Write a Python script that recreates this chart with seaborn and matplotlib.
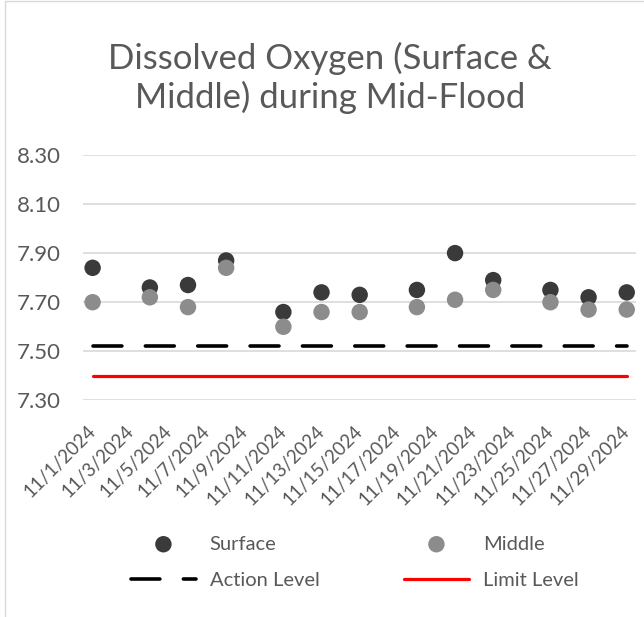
import pandas as pd
import matplotlib.pyplot as plt
import seaborn as sns


dates = ['2024-11-01', '2024-11-04', '2024-11-06', '2024-11-08', '2024-11-11',
         '2024-11-13', '2024-11-15', '2024-11-18', '2024-11-20', '2024-11-22',
         '2024-11-25', '2024-11-27', '2024-11-29']
surface = [7.84, 7.76, 7.77, 7.87, 7.66, 7.74, 7.73, 7.75, 7.90, 7.79, 7.75, 7.72, 7.74]
middle = [7.70, 7.72, 7.68, 7.84, 7.60, 7.66, 7.66, 7.68, 7.71, 7.75, 7.70, 7.67, 7.67]
action_level = 7.52
limit_level = 7.40
y_ticks = [7.30, 7.50, 7.70, 7.90, 8.10, 8.30]

df = pd.DataFrame({'Date': pd.to_datetime(dates), 'Surface': surface, 'Middle': middle})
df['Action Level'] = action_level
df['Limit Level'] = limit_level

sns.set_style('white')
plt.rcParams['font.family'] = ['Lato', 'DejaVu Sans']
text_col = '#595959'

fig = plt.figure(figsize=(6.44, 6.17), dpi=100)
ax = fig.add_axes([0.129, 0.351, 0.859, 0.398])

sns.lineplot(data=df, x='Date', y='Action Level', ax=ax, color='black', linewidth=2.6,
             label='Action Level')
ax.lines[-1].set_dashes([8, 6.5])
ax.lines[-1].set_dash_capstyle('round')
sns.lineplot(data=df, x='Date', y='Limit Level', ax=ax, color='#ff0000', linewidth=2.3,
             label='Limit Level')
ax.lines[-1].set_solid_capstyle('round')
sns.scatterplot(data=df, x='Date', y='Surface', ax=ax, color='#3a3a3a', s=140,
                edgecolor='none', label='Surface', zorder=3)
sns.scatterplot(data=df, x='Date', y='Middle', ax=ax, color='#8c8c8c', s=140,
                edgecolor='none', label='Middle', zorder=3)

ax.set_ylim(7.30, 8.30)
ax.set_yticks(y_ticks)
ax.set_yticklabels([f'{v:.2f}' for v in y_ticks])
ax.yaxis.grid(True, color='#d9d9d9', linewidth=1.2)
ax.set_xlim(pd.Timestamp('2024-10-31 12:00'), pd.Timestamp('2024-11-29 12:00'))
ticks = pd.date_range('2024-11-01', '2024-11-29', freq='2D')
ax.set_xticks(ticks)
ax.set_xticklabels([f'{d.month}/{d.day}/{d.year}' for d in ticks], rotation=45,
                   ha='right', va='center', rotation_mode='anchor')
ax.tick_params(axis='both', colors=text_col, length=0)
ax.tick_params(axis='y', labelsize=16, pad=16)
ax.tick_params(axis='x', labelsize=13.5, pad=20)
for sp in ax.spines.values():
    sp.set_visible(False)
ax.set_xlabel('')
ax.set_ylabel('')

ax.legend_.remove()
h, l = ax.get_legend_handles_labels()
order = [l.index(n) for n in ['Surface', 'Action Level', 'Middle', 'Limit Level']]
fig.legend([h[i] for i in order], [l[i] for i in order], ncol=2, frameon=False,
           loc='center', bbox_to_anchor=(0.551, 0.089), fontsize=14.5, labelcolor=text_col,
           handlelength=3.2, columnspacing=4.2, labelspacing=0.95, handletextpad=0.7)

fig.text(0.512, 0.874, 'Dissolved Oxygen (Surface &\nMiddle) during Mid-Flood',
         ha='center', va='center', fontsize=25, color=text_col, linespacing=1.2)

fig.add_artist(plt.Line2D([0.008, 0.008], [0, 0.998], color='#d9d9d9', linewidth=1))
fig.add_artist(plt.Line2D([0.008, 1], [0.998, 0.998], color='#d9d9d9', linewidth=1))

fig.savefig('out.png', dpi=100)
